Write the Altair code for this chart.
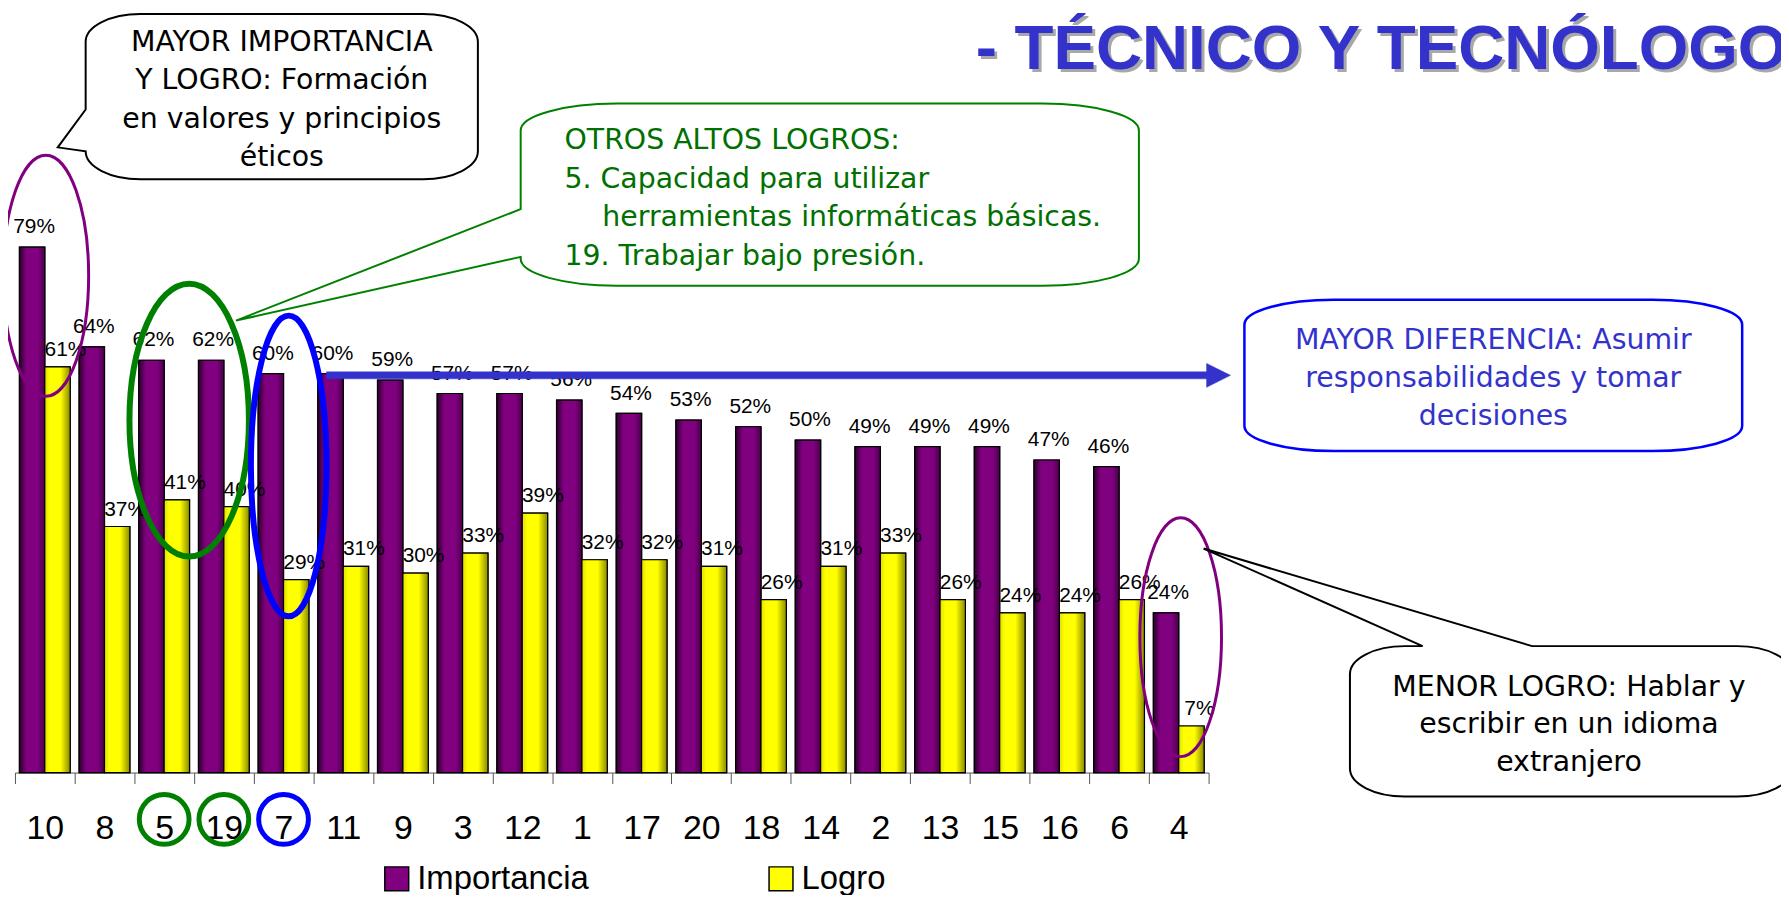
import altair as alt
import pandas as pd

# ---------------- data ----------------
categorias = ["10", "8", "5", "19", "7", "11", "9", "3", "12", "1",
              "17", "20", "18", "14", "2", "13", "15", "16", "6", "4"]
importancia = [79, 64, 62, 62, 60, 60, 59, 57, 57, 56,
               54, 53, 52, 50, 49, 49, 49, 47, 46, 24]
logro = [61, 37, 41, 40, 29, 31, 30, 33, 39, 32,
         32, 31, 26, 31, 33, 26, 24, 24, 26, 7]
series = ["Importancia", "Logro"]

titulo = "- TÉCNICO Y TECNÓLOGO"
nota_mayor = ["MAYOR IMPORTANCIA", "Y LOGRO: Formación", "en valores y principios", "éticos"]
nota_otros = ["OTROS ALTOS LOGROS:", "5. Capacidad para utilizar",
              "herramientas informáticas básicas.", "19. Trabajar bajo presión."]
nota_dif = ["MAYOR DIFERENCIA: Asumir", "responsabilidades y tomar", "decisiones"]
nota_menor = ["MENOR LOGRO: Hablar y", "escribir en un idioma", "extranjero"]
destacadas_verde = ["5", "19"]
destacadas_azul = ["7"]

rows = []
for c, i, l in zip(categorias, importancia, logro):
    rows.append({"cat": c, "serie": "Importancia", "valor": i})
    rows.append({"cat": c, "serie": "Logro", "valor": l})
df = pd.DataFrame(rows)
one = pd.DataFrame({"k": [0]})

# ---------------- layout ----------------
OX, OY = 15, 106          # plot origin in page pixels
W, H = 1199, 668
TOT_W, TOT_H = 1781, 887
PAD = {"left": OX - 8, "top": OY - 8, "right": TOT_W - (OX - 8) - W,
       "bottom": TOT_H - (OY - 8) - H}


def P(X, Y):
    return X - OX, Y - OY


def ellipse(cx, cy, rx, ry):
    cx, cy = P(cx, cy)
    return (f"M {cx-rx} {cy} A {rx} {ry} 0 1 0 {cx+rx} {cy} "
            f"A {rx} {ry} 0 1 0 {cx-rx} {cy} Z")


def callout(x0, y0, x1, y1, rx, ry, tail_left=None, tail_top=None):
    def p(X, Y):
        a, b = P(X, Y)
        return f"{a} {b}"
    s = f"M {p(x0+rx, y0)} "
    if tail_top:
        xa, xb, tip = tail_top
        s += f"L {p(xa, y0)} L {p(*tip)} L {p(xb, y0)} "
    s += f"L {p(x1-rx, y0)} A {rx} {ry} 0 0 1 {p(x1, y0+ry)} "
    s += f"L {p(x1, y1-ry)} A {rx} {ry} 0 0 1 {p(x1-rx, y1)} "
    s += f"L {p(x0+rx, y1)} A {rx} {ry} 0 0 1 {p(x0, y1-ry)} "
    if tail_left:
        ya, yb, tip = tail_left
        s += f"L {p(x0, yb)} L {p(*tip)} L {p(x0, ya)} "
    s += f"L {p(x0, y0+ry)} A {rx} {ry} 0 0 1 {p(x0+rx, y0)} Z"
    return s


def shape_layer(path, stroke, sw, fill=None):
    if fill is None:
        m = alt.Chart(one).mark_point(shape=path, size=4, filled=False, stroke=stroke,
                                      strokeWidth=sw, opacity=1)
    else:
        m = alt.Chart(one).mark_point(shape=path, size=4, filled=True, fill=fill,
                                      stroke=stroke, strokeWidth=sw, opacity=1)
    return m.encode(x=alt.value(0), y=alt.value(0))


def text_layer(txt, X, Y, size, color, font="DejaVu Sans", align="center", weight="normal"):
    x, y = P(X, Y)
    return alt.Chart(one).mark_text(text=txt, font=font, fontSize=size, color=color,
                                    align=align, baseline="alphabetic",
                                    fontWeight=weight).encode(x=alt.value(x), y=alt.value(y))


# ---------------- encodings ----------------
x_enc = alt.X("cat:N", sort=categorias, title=None,
              scale=alt.Scale(paddingInner=0, paddingOuter=0),
              axis=alt.Axis(labelAngle=0, tickBand="extent", tickSize=11, tickColor="#555555",
                            domainColor="#555555", labelFont="Liberation Sans", labelFontSize=34,
                            labelColor="black", labelBaseline="alphabetic", labelPadding=55,
                            grid=False))
xo_enc = alt.XOffset("serie:N", scale=alt.Scale(domain=series, paddingInner=0, paddingOuter=0.176))
y_enc = alt.Y("valor:Q", scale=alt.Scale(domain=[0, 100], nice=False), axis=None)

grad_p = alt.LinearGradient(gradient="linear", x1=0, x2=1, y1=0, y2=0, stops=[
    alt.GradientStop(color="#2b002b", offset=0), alt.GradientStop(color="#800080", offset=0.28),
    alt.GradientStop(color="#800080", offset=0.72), alt.GradientStop(color="#4a004a", offset=1)])
grad_y = alt.LinearGradient(gradient="linear", x1=0, x2=1, y1=0, y2=0, stops=[
    alt.GradientStop(color="#e0e000", offset=0), alt.GradientStop(color="#ffff00", offset=0.2),
    alt.GradientStop(color="#ffff00", offset=0.62), alt.GradientStop(color="#8a8a00", offset=1)])

base = alt.Chart(df)

bars = base.mark_bar(stroke="black", strokeWidth=1.2).encode(
    x=x_enc, xOffset=xo_enc, y=y_enc,
    fill=alt.Fill("serie:N", scale=alt.Scale(domain=series, range=["#800080", "#FFFF00"]),
                  legend=alt.Legend(title=None, orient="none", legendX=367, legendY=758,
                                    direction="horizontal", symbolType="square", symbolSize=576,
                                    symbolStrokeColor="black", symbolStrokeWidth=1.5,
                                    labelFont="Liberation Sans", labelFontSize=33,
                                    labelColor="black", labelOffset=4, columnPadding=176,
                                    labelLimit=500, padding=0, symbolOpacity=1)))

bars_p = base.transform_filter(alt.datum.serie == "Importancia").mark_bar(
    fill=grad_p, stroke="black", strokeWidth=1.2).encode(x=x_enc, xOffset=xo_enc, y=y_enc)
bars_y = base.transform_filter(alt.datum.serie == "Logro").mark_bar(
    fill=grad_y, stroke="black", strokeWidth=1.2).encode(x=x_enc, xOffset=xo_enc, y=y_enc)

lab_p = base.transform_filter(alt.datum.serie == "Importancia").transform_calculate(
    label="datum.valor + '%'").mark_text(font="Liberation Sans", fontSize=21, color="black",
                                         baseline="alphabetic", dx=2, dy=-14).encode(
    x=x_enc, xOffset=xo_enc, y=y_enc, text="label:N")
lab_y = base.transform_filter(alt.datum.serie == "Logro").transform_calculate(
    label="datum.valor + '%'").mark_text(font="Liberation Sans", fontSize=21, color="black",
                                         baseline="alphabetic", dx=8, dy=-11).encode(
    x=x_enc, xOffset=xo_enc, y=y_enc, text="label:N")

# circles around axis labels
circ_g = alt.Chart(pd.DataFrame({"cat": destacadas_verde})).mark_point(
    shape="circle", size=2500, filled=False, stroke="#008000", strokeWidth=5, opacity=1).encode(
    x=x_enc, y=alt.value(821 - OY))
circ_b = alt.Chart(pd.DataFrame({"cat": destacadas_azul})).mark_point(
    shape="circle", size=2500, filled=False, stroke="#0000FF", strokeWidth=5, opacity=1).encode(
    x=x_enc, y=alt.value(821 - OY))

# ellipses
e1 = shape_layer(ellipse(46, 275, 43, 121), "#800080", 3)
e2 = shape_layer(ellipse(190, 420, 60, 137), "#008000", 6)
e3 = shape_layer(ellipse(290, 466, 38, 151), "#0000FF", 6)
e4 = shape_layer(ellipse(1186, 638, 41, 120), "#800080", 3)

# arrow
ax0, ay = P(328, 375)
ax1, _ = P(1212, 375)
ax2, _ = P(1236, 375)
arrow_path = (f"M {ax0} {ay-3.5} L {ax1} {ay-3.5} L {ax1} {ay-12} L {ax2} {ay} "
              f"L {ax1} {ay+12} L {ax1} {ay+3.5} L {ax0} {ay+3.5} Z")
arrow = shape_layer(arrow_path, "#3333CC", 0.5, fill="#3333CC")

# callouts
c1 = shape_layer(callout(86, 12, 480, 178, 55, 28, tail_left=(108, 150, (58, 146))),
                 "black", 2, fill="white")
c2 = shape_layer(callout(523, 102, 1144, 285, 97, 27, tail_left=(208, 256, (237, 320))),
                 "#008000", 2, fill="white")
c3 = shape_layer(callout(1250, 299, 1750, 451, 90, 25), "#0000FF", 2.5, fill="white")
c4 = shape_layer(callout(1356, 647, 1800, 798, 55, 28, tail_top=(1429, 1539, (1209, 549))),
                 "black", 2, fill="white")

texts = []
for k, t in enumerate(nota_mayor):
    texts.append(text_layer(t, 283, 49 + 38.7 * k, 28.5, "black"))
for k, t in enumerate(nota_otros):
    texts.append(text_layer(t, 605 if k == 2 else 567, 148 + 38.6 * k, 28.5, "#007000",
                            align="left"))
for k, t in enumerate(nota_dif):
    texts.append(text_layer(t, 1500, 349 + 38 * k, 28.5, "#3333CC"))
for k, t in enumerate(nota_menor):
    texts.append(text_layer(t, 1576, 697 + 37.5 * k, 28.5, "black"))

title_sh = text_layer(titulo, 983, 70, 64, "#a8a8a8", font="Liberation Sans", align="left",
                      weight="bold")
title_main = text_layer(titulo, 980, 67, 64, "#3333CC", font="Liberation Sans", align="left",
                        weight="bold")

chart = alt.layer(
    bars, bars_p, bars_y, lab_p, lab_y, e1, e2, e3, e4, arrow, c1, c2, c3, c4,
    *texts, title_sh, title_main, circ_g, circ_b
).properties(
    width=W, height=H, padding=PAD, autosize=alt.AutoSizeParams(type="none"),
    background="white"
).configure_view(stroke=None)

chart.save("out.html", embed_options={"renderer": "svg", "actions": False})
